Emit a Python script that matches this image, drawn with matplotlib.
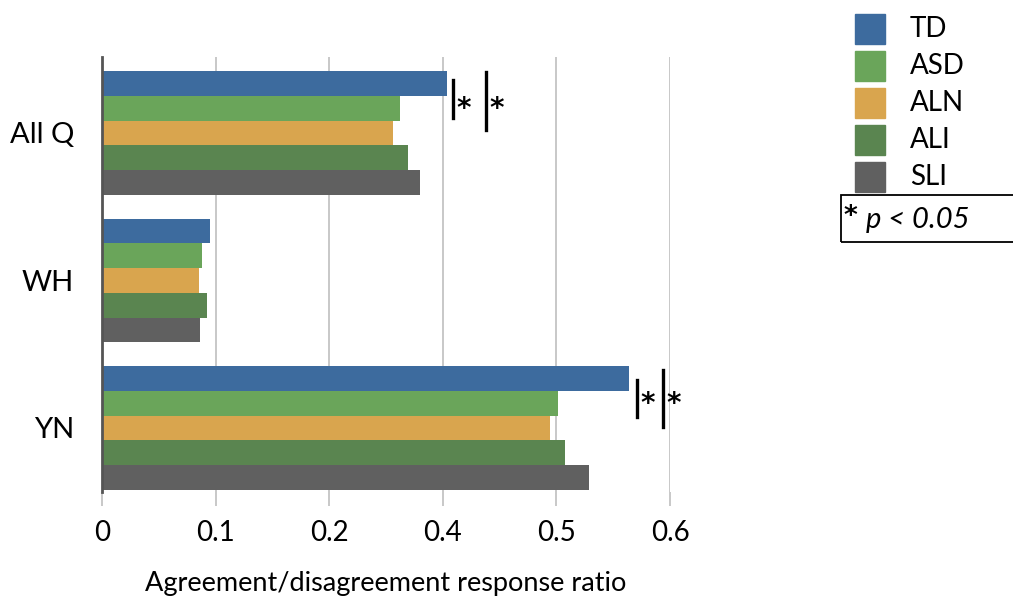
import numpy as np
import matplotlib
matplotlib.use("Agg")
import matplotlib.pyplot as plt
from matplotlib.patches import Rectangle

plt.rcParams['font.family'] = ['Lato', 'DejaVu Sans']

categories = ['All Q', 'WH', 'YN']
groups = ['TD', 'ASD', 'ALN', 'ALI', 'SLI']
values = {
    'TD':  [0.304, 0.095, 0.464],
    'ASD': [0.262, 0.088, 0.401],
    'ALN': [0.256, 0.085, 0.394],
    'ALI': [0.269, 0.092, 0.408],
    'SLI': [0.280, 0.086, 0.429],
}
colors = ['#3d6b9e', '#6aa55a', '#d9a54e', '#5a8550', '#606060']
tick_vals = [0, 0.1, 0.2, 0.3, 0.4, 0.5]
tick_labels = ['0', '0.1', '0.2', '0.4', '0.5', '0.6']

fig = plt.figure(figsize=(10.13, 6.01), dpi=100)
ax = fig.add_axes([102/1013, 1-492/601, (670-102)/1013, (492-57)/601])

bh = 0.1675
y = np.arange(len(categories))
for i, (g, c) in enumerate(zip(groups, colors)):
    ax.barh(y - 2*bh + i*bh, values[g], height=bh, color=c, zorder=3, label=g)

ax.set_xlim(0, 0.5)
ax.set_ylim(2.434, -0.515)
ax.set_xticks(tick_vals)
ax.set_xticklabels(tick_labels)
ax.set_yticks(y)
ax.set_yticklabels(categories)
ax.grid(axis='x', color='#c4c4c4', linewidth=1.3, zorder=0)
for s in ['top', 'right', 'bottom']:
    ax.spines[s].set_visible(False)
ax.spines['left'].set_color('#555555')
ax.spines['left'].set_linewidth(2)
ax.spines['left'].set_zorder(4)
ax.tick_params(axis='x', length=10, width=1.3, color='#c4c4c4', pad=10, labelsize=20)
ax.tick_params(axis='y', length=0, pad=20, labelsize=21)
ax.set_xlabel('Agreement/disagreement response ratio', fontsize=19.5, labelpad=18)

# significance markers
def sig(cat, x1, x2, spans):
    for x, (a, b) in zip((x1, x2), spans):
        ax.plot([x, x], [cat + a, cat + b], color='black', lw=2.4, clip_on=False, zorder=5)
        ax.text(x + 0.003, cat - 0.16, '*', fontsize=20, fontweight='bold',
                family='DejaVu Sans', ha='left', va='center', clip_on=False)

sig(0, 0.309, 0.338, [(-0.36, -0.10), (-0.41, -0.02)])
sig(2, 0.471, 0.494, [(-0.325, -0.075), (-0.39, -0.005)])

# legend
for i, (g, c) in enumerate(zip(groups, colors)):
    top = 14 + i*37
    fig.patches.append(Rectangle((855/1013, 1-(top+30)/601), 30/1013, 30/601,
                                 transform=fig.transFigure, color=c))
    fig.text(910/1013, 1-(top+15)/601, g, fontsize=20, va='center', ha='left')

fig.patches.append(Rectangle((841/1013, 1-242/601), 250/1013, 47/601,
                             transform=fig.transFigure, fill=False, edgecolor='black', lw=1.3))
fig.text(844/1013, 1-217/601, '*', fontsize=19, fontweight='bold', family='DejaVu Sans',
         va='center', ha='left')
fig.text(866/1013, 1-220/601, 'p < 0.05', fontsize=21, style='italic', va='center', ha='left')

fig.savefig('out.png', dpi=100)
